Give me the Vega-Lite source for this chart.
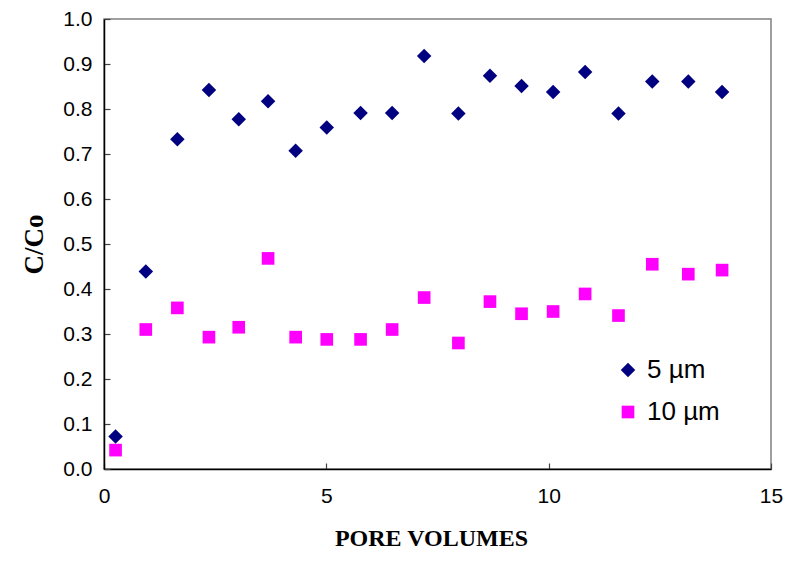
{
  "$schema": "https://vega.github.io/schema/vega-lite/v6.json",
  "width": 667,
  "height": 450,
  "autosize": {"type": "none"},
  "padding": {"left": 104, "top": 19, "right": 17, "bottom": 95},
  "background": "white",
  "config": {
    "view": {"stroke": "#808080", "strokeWidth": 1.5},
    "font": "Liberation Sans",
    "axis": {
      "grid": false,
      "domainColor": "#000000",
      "domainWidth": 1.5,
      "tickColor": "#444444",
      "tickWidth": 1.2,
      "labelColor": "#000000",
      "labelFont": "Liberation Sans",
      "labelFontSize": 21,
      "labelFlush": false,
      "titleColor": "#000000",
      "titleFont": "Liberation Serif",
      "titleFontWeight": "bold"
    },
    "legend": {
      "title": null,
      "labelFont": "Liberation Sans",
      "labelFontSize": 26,
      "labelColor": "#000000",
      "labelOffset": 6,
      "rowPadding": 16
    }
  },
  "data": {
    "values": [
      {"pv": 0.26, "cc": 0.072, "particle": "5 µm"},
      {"pv": 0.94, "cc": 0.439, "particle": "5 µm"},
      {"pv": 1.65, "cc": 0.733, "particle": "5 µm"},
      {"pv": 2.36, "cc": 0.842, "particle": "5 µm"},
      {"pv": 3.03, "cc": 0.777, "particle": "5 µm"},
      {"pv": 3.69, "cc": 0.817, "particle": "5 µm"},
      {"pv": 4.31, "cc": 0.707, "particle": "5 µm"},
      {"pv": 5.01, "cc": 0.759, "particle": "5 µm"},
      {"pv": 5.77, "cc": 0.791, "particle": "5 µm"},
      {"pv": 6.48, "cc": 0.791, "particle": "5 µm"},
      {"pv": 7.20, "cc": 0.918, "particle": "5 µm"},
      {"pv": 7.97, "cc": 0.790, "particle": "5 µm"},
      {"pv": 8.68, "cc": 0.874, "particle": "5 µm"},
      {"pv": 9.39, "cc": 0.851, "particle": "5 µm"},
      {"pv": 10.10, "cc": 0.838, "particle": "5 µm"},
      {"pv": 10.82, "cc": 0.882, "particle": "5 µm"},
      {"pv": 11.57, "cc": 0.790, "particle": "5 µm"},
      {"pv": 12.33, "cc": 0.861, "particle": "5 µm"},
      {"pv": 13.14, "cc": 0.861, "particle": "5 µm"},
      {"pv": 13.90, "cc": 0.838, "particle": "5 µm"},
      {"pv": 0.26, "cc": 0.042, "particle": "10 µm"},
      {"pv": 0.94, "cc": 0.310, "particle": "10 µm"},
      {"pv": 1.65, "cc": 0.358, "particle": "10 µm"},
      {"pv": 2.36, "cc": 0.293, "particle": "10 µm"},
      {"pv": 3.03, "cc": 0.315, "particle": "10 µm"},
      {"pv": 3.69, "cc": 0.468, "particle": "10 µm"},
      {"pv": 4.31, "cc": 0.293, "particle": "10 µm"},
      {"pv": 5.01, "cc": 0.288, "particle": "10 µm"},
      {"pv": 5.77, "cc": 0.288, "particle": "10 µm"},
      {"pv": 6.48, "cc": 0.310, "particle": "10 µm"},
      {"pv": 7.20, "cc": 0.381, "particle": "10 µm"},
      {"pv": 7.97, "cc": 0.280, "particle": "10 µm"},
      {"pv": 8.68, "cc": 0.372, "particle": "10 µm"},
      {"pv": 9.39, "cc": 0.345, "particle": "10 µm"},
      {"pv": 10.10, "cc": 0.350, "particle": "10 µm"},
      {"pv": 10.82, "cc": 0.389, "particle": "10 µm"},
      {"pv": 11.57, "cc": 0.341, "particle": "10 µm"},
      {"pv": 12.33, "cc": 0.455, "particle": "10 µm"},
      {"pv": 13.14, "cc": 0.433, "particle": "10 µm"},
      {"pv": 13.90, "cc": 0.442, "particle": "10 µm"}
    ]
  },
  "mark": {"type": "point", "filled": true, "opacity": 1, "strokeWidth": 0},
  "encoding": {
    "x": {
      "field": "pv",
      "type": "quantitative",
      "scale": {"domain": [0, 15], "nice": false},
      "axis": {
        "values": [0, 5, 10, 15],
        "title": "PORE VOLUMES",
        "titleFontSize": 24,
        "titlePadding": 20,
        "titleX": 327,
        "tickSize": -6,
        "labelPadding": 22
      }
    },
    "y": {
      "field": "cc",
      "type": "quantitative",
      "scale": {"domain": [0, 1], "nice": false},
      "axis": {
        "values": [0, 0.1, 0.2, 0.3, 0.4, 0.5, 0.6, 0.7, 0.8, 0.9, 1.0],
        "format": ".1f",
        "title": "C/Co",
        "titleFontSize": 27,
        "titlePadding": 14,
        "tickSize": -6,
        "labelPadding": 18
      }
    },
    "shape": {
      "field": "particle",
      "type": "nominal",
      "scale": {"domain": ["5 µm", "10 µm"], "range": ["diamond", "square"]},
      "legend": {"orient": "none", "legendX": 511, "legendY": 338}
    },
    "color": {
      "field": "particle",
      "type": "nominal",
      "scale": {"domain": ["5 µm", "10 µm"], "range": ["#000080", "#FF00FF"]},
      "legend": {"orient": "none", "legendX": 511, "legendY": 338}
    },
    "size": {
      "field": "particle",
      "type": "nominal",
      "scale": {"domain": ["5 µm", "10 µm"], "range": [210, 160]},
      "legend": {"orient": "none", "legendX": 511, "legendY": 338}
    }
  }
}
